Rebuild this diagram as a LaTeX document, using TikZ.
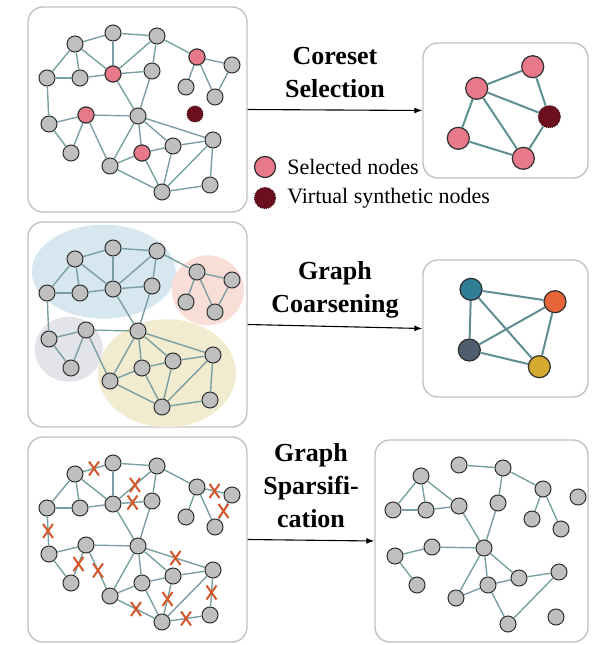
\documentclass[tikz,border=0pt]{standalone}
\usepackage{fontspec}
\setmainfont{Liberation Serif}
\usetikzlibrary{positioning, arrows.meta, shapes.misc}

\definecolor{panelgray}{HTML}{C2C2C2}
\definecolor{vxgray}{HTML}{BFBFBF}
\definecolor{vxline}{HTML}{2E2E2E}
\definecolor{linkteal}{HTML}{7A9FA3}
\definecolor{linkdark}{HTML}{5F8F93}
\definecolor{selpink}{HTML}{E8798B}
\definecolor{virtred}{HTML}{6B0F1F}
\definecolor{cutred}{HTML}{D2572B}
\definecolor{clblue}{HTML}{D6E7EF}
\definecolor{clpink}{HTML}{F9DDD7}
\definecolor{clgray}{HTML}{E3E3EA}
\definecolor{clyellow}{HTML}{F1EBCF}
\definecolor{cteal}{HTML}{2F7E96}
\definecolor{corange}{HTML}{E8653A}
\definecolor{cslate}{HTML}{4F5D6F}
\definecolor{cgold}{HTML}{D4AA33}

% layout of the input graph, in px from the top left of the picture
\newcommand\basenodes{A/75/44, B/113/33, C/157/36, D/197/57, E/232/65,
  F/47/78, G/80/78, H/113/74, I/152/71, J/186/87, K/215/97, L/49/124,
  M/86/115, N/138/116, O/71/153, P/110/166, Q/142/153, R/173/146,
  S/213/140, T/162/192, U/210/185}
\newcommand\baseedges{A/B, B/C, C/D, D/E, D/J, D/K, E/K, A/F, A/G, A/H,
  B/H, C/H, C/I, F/G, G/H, H/I, F/L, H/N, I/N, L/M, L/O, M/O, M/N, M/P,
  N/P, N/Q, N/R, N/S, P/Q, Q/R, Q/T, R/S, R/T, S/T, S/U, T/U, P/T}
\newcommand\cutedges{A/B, C/H, H/I, D/E, E/K, F/L, M/O, M/P, N/S, R/T,
  S/U, T/U, P/T}
\newcommand\sparseedges{B/C, C/D, D/J, D/K, A/F, A/G, A/H, F/G, G/H, C/I,
  I/N, H/N, L/M, L/O, M/N, N/P, N/Q, N/R, P/Q, Q/R, Q/T, R/S, S/T}

\begin{document}
\begin{tikzpicture}[
  x=1pt, y=-1pt,
  panel/.style={draw=panelgray, line width=1.4pt, rounded corners=15pt},
  vx/.style={circle, draw=vxline, fill=vxgray, line width=1pt, minimum size=16pt, inner sep=0pt},
  sel/.style={vx, fill=selpink},
  virt/.style={vx, fill=virtred, draw=virtred!60!black, densely dotted},
  big/.style={minimum size=22pt, line width=1.2pt},
  link/.style={draw=linkteal, line width=1.4pt},
  thlink/.style={draw=linkdark, line width=2pt},
  cutmark/.style={cross out, draw=cutred, line width=2pt, minimum width=8pt,
    minimum height=12pt, inner sep=0pt},
  flow/.style={-{Latex[length=8pt, width=6pt]}, line width=1.1pt},
  lbl/.style={font=\bfseries\fontsize{26}{33}\selectfont, align=center, inner sep=0pt,
    text depth=0pt},
  legtext/.style={font=\fontsize{22}{26}\selectfont, inner sep=0pt}
]
\useasboundingbox (0,0) rectangle (592,645);

% --- panels ---
\node[panel, minimum width=219pt, minimum height=205pt] (orig1) at (137.5,109.5) {};
\node[panel, minimum width=219pt, minimum height=205pt] (orig2) at (137.5,324.5) {};
\node[panel, minimum width=219pt, minimum height=205pt] (orig3) at (137.5,539.5) {};
\node[panel, minimum width=165pt, minimum height=135pt] (core) at (505.5,110.5) {};
\node[panel, minimum width=165pt, minimum height=137pt] (coarse) at (505.5,328.5) {};
\node[panel, minimum width=213pt, minimum height=202pt] (sparse) at (481.5,541) {};

% --- input graph, selected nodes marked ---
\foreach \n/\x/\y in \basenodes \node[vx] (a\n) at (\x,\y) {};
\foreach \a/\b in \baseedges \draw[link] (a\a) -- (a\b);
\foreach \n in {D,H,M,Q} \node[sel] at (a\n) {};
\node[virt] (aV) at (195,114) {};

% --- input graph with its clusters ---
\begin{scope}[shift={(0,215)}]
  \fill[clblue] (103.8,56.7) ellipse [x radius=72, y radius=47];
  \fill[clpink] (207.8,75.3) ellipse [x radius=36, y radius=35];
  \fill[clgray] (68.8,134.2) ellipse [x radius=34, y radius=32.5];
  \fill[clyellow] (167,158.3) ellipse [x radius=69, y radius=54];
  \foreach \n/\x/\y in \basenodes \node[vx] (b\n) at (\x,\y) {};
  \foreach \a/\b in \baseedges \draw[link] (b\a) -- (b\b);
\end{scope}

% --- input graph, removed edges crossed out ---
\begin{scope}[shift={(0,430)}]
  \foreach \n/\x/\y in \basenodes \node[vx] (c\n) at (\x,\y) {};
  \foreach \a/\b in \baseedges \draw[link] (c\a) -- (c\b);
  \foreach \a/\b in \cutedges \path (c\a) -- node[cutmark] {} (c\b);
\end{scope}

% --- coreset ---
\node[sel, big] (s1) at (476.7,88.3) {};
\node[sel, big] (s2) at (532.7,66.7) {};
\node[virt, big] (sv) at (549.3,116.7) {};
\node[sel, big] (s3) at (458.3,138.3) {};
\node[sel, big] (s4) at (523.3,158.3) {};
\draw[thlink] (s1) -- (s2) (s1) -- (sv) (s1) -- (s3) (s1) -- (s4)
  (s2) -- (sv) (sv) -- (s4) (s3) -- (s4);

% --- coarsened graph ---
\node[vx, big, fill=cteal] (ct) at (471,289.3) {};
\node[vx, big, fill=corange] (co) at (555,301.7) {};
\node[vx, big, fill=cslate] (cs) at (469.3,350) {};
\node[vx, big, fill=cgold] (cy) at (539.3,366.7) {};
\draw[thlink] (ct) -- (co) (ct) -- (cs) (ct) -- (cy) (co) -- (cs)
  (co) -- (cy) (cs) -- (cy);

% --- sparsified graph ---
\begin{scope}[shift={(346,432)}]
  \foreach \n/\x/\y in \basenodes \node[vx] (d\n) at (\x,\y) {};
  \foreach \a/\b in \sparseedges \draw[link] (d\a) -- (d\b);
\end{scope}

% --- methods ---
\draw[flow] (orig1.east) -- node[lbl, above=12pt] {Coreset\\Selection} (core.west);
\draw[flow] (orig2.east) -- node[lbl, above=13pt] {Graph\\Coarsening} (coarse.west);
\draw[flow] (orig3.east) -- node[lbl, above=12pt] {Graph\\Sparsifi-\\cation} (sparse.west);

% --- legend ---
\node[sel, big, minimum size=21pt] (keysel) at (265,167) {};
\node[legtext, right=11pt of keysel] {Selected nodes};
\node[virt, big, minimum size=21pt] (keyvirt) at (265,198) {};
\node[legtext, right=11pt of keyvirt] {Virtual synthetic nodes};

\end{tikzpicture}
\end{document}
